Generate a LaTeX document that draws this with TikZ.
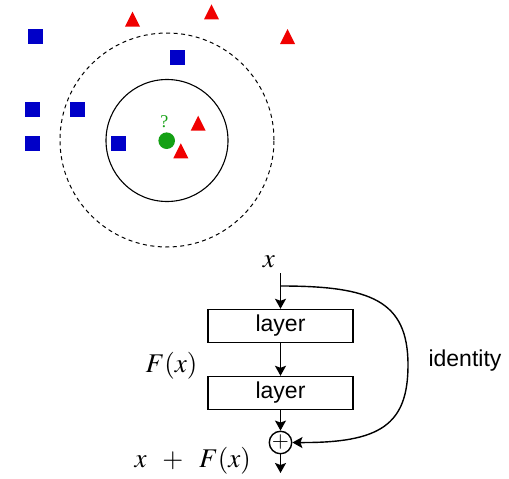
\documentclass[tikz,border=0pt]{standalone}
\usepackage{mathptmx}
\usepackage{fontspec}
\setmainfont{Liberation Serif}
\setsansfont{Liberation Sans}
\usepackage{tikz}
\usetikzlibrary{arrows.meta,positioning}
\definecolor{carre}{RGB}{0,0,200}
\definecolor{pointe}{RGB}{240,0,0}
\definecolor{requete}{RGB}{20,160,20}

\tikzset{
  couche/.style={draw, line width=1.4pt, minimum width=145pt, minimum height=33pt,
                 inner sep=0pt, font=\sffamily\fontsize{23}{23}\selectfont},
  somme/.style={draw, circle, line width=1.4pt, minimum size=21pt, inner sep=0pt,
                font=\fontsize{22}{22}\selectfont},
  fleche/.style={line width=1.4pt, -{Stealth[length=10pt,width=11pt,inset=2pt]}},
  grand/.style={font=\fontsize{27}{27}\selectfont}
}

\begin{document}
\begin{tikzpicture}[x=1pt, y=-1pt]
    \useasboundingbox (0,0) rectangle (509,479);
    % voisinage : k = 3 et k = 5
    \draw[line width=1pt, dashed, dash pattern=on 4pt off 3.5pt] (167,140) circle (107pt);
    \draw[line width=1.1pt] (167,140.5) circle (61pt);
    % classe carre
    \fill[carre] (28.3,29.3) rectangle +(15,15);
    \fill[carre] (170,50) rectangle +(15,15);
    \fill[carre] (25,101.5) rectangle +(15,15);
    \fill[carre] (70,101.5) rectangle +(15,15);
    \fill[carre] (25,136) rectangle +(15,15);
    \fill[carre] (111,136) rectangle +(15,15);
    % classe triangle
    \fill[pointe] (132.5,11.7) -- (140,26.7) -- (125,26.7) -- cycle;
    \fill[pointe] (211.5,4.3) -- (219,19.3) -- (204,19.3) -- cycle;
    \fill[pointe] (287.5,29) -- (295,44) -- (280,44) -- cycle;
    \fill[pointe] (198.2,115.7) -- (205.7,130.7) -- (190.7,130.7) -- cycle;
    \fill[pointe] (180.8,143.3) -- (188.3,158.3) -- (173.3,158.3) -- cycle;
    % point a classer
    \fill[requete] (166.7,140.7) circle (8.3pt);
    \node[requete, font=\fontsize{18}{18}\selectfont] (q) at (164.3,121.7) {?};

    % bloc residuel
    \node[grand, anchor=base] (xin) at (269,267) {$x$};
    \coordinate (haut) at (280.5,273);
    \coordinate (branche) at (280.5,286);
    \node[couche] (c1) at (280.5,326) {layer};
    \node[couche] (c2) at (280.5,393) {layer};
    \node[somme] (plus) at (280.5,442.5) {$+$};
    \coordinate (sortie) at (280.5,473);
    \node[grand, anchor=base east] (fx) at (201,372) {$F(x)$};
    \node[grand, anchor=base west] (xfx) at (131,467) {$x\mkern8mu+\mkern8mu F(x)$};
    \node[font=\sffamily\fontsize{23}{23}\selectfont, anchor=base west] (id) at (425,366) {identity};
    \draw[fleche] (haut) -- (c1);
    \draw[fleche] (c1) -- (c2);
    \draw[fleche] (c2) -- (plus);
    \draw[fleche] (plus) -- (sortie);
    \draw[fleche] (branche) .. controls (370,286) and (408,300) .. (408,365)
                  .. controls (408,425) and (380,443) .. (plus.east);
\end{tikzpicture}
\end{document}
